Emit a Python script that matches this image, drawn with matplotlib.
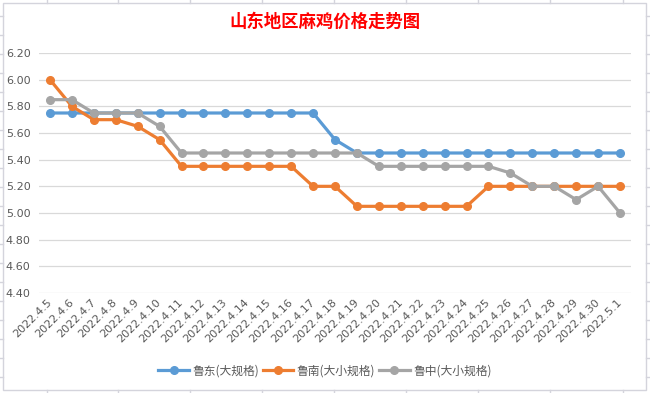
import matplotlib
matplotlib.use("Agg")
import matplotlib.pyplot as plt
from matplotlib.lines import Line2D

plt.rcParams['font.family'] = ['Noto Sans CJK SC', 'DejaVu Sans']

# dates on the category axis
dates = ['2022.4.5', '2022.4.6', '2022.4.7', '2022.4.8', '2022.4.9', '2022.4.10',
         '2022.4.11', '2022.4.12', '2022.4.13', '2022.4.14', '2022.4.15', '2022.4.16',
         '2022.4.17', '2022.4.18', '2022.4.19', '2022.4.20', '2022.4.21', '2022.4.22',
         '2022.4.23', '2022.4.24', '2022.4.25', '2022.4.26', '2022.4.27', '2022.4.28',
         '2022.4.29', '2022.4.30', '2022.5.1']

# price series
ludong = [5.75, 5.75, 5.75, 5.75, 5.75, 5.75, 5.75, 5.75, 5.75, 5.75, 5.75, 5.75,
          5.75, 5.55, 5.45, 5.45, 5.45, 5.45, 5.45, 5.45, 5.45, 5.45, 5.45, 5.45,
          5.45, 5.45, 5.45]
lunan = [6.00, 5.80, 5.70, 5.70, 5.65, 5.55, 5.35, 5.35, 5.35, 5.35, 5.35, 5.35,
         5.20, 5.20, 5.05, 5.05, 5.05, 5.05, 5.05, 5.05, 5.20, 5.20, 5.20, 5.20,
         5.20, 5.20, 5.20]
luzhong = [5.85, 5.85, 5.75, 5.75, 5.75, 5.65, 5.45, 5.45, 5.45, 5.45, 5.45, 5.45,
           5.45, 5.45, 5.45, 5.35, 5.35, 5.35, 5.35, 5.35, 5.35, 5.30, 5.20, 5.20,
           5.10, 5.20, 5.00]

series_names = ['鲁东(大规格)', '鲁南(大小规格)', '鲁中(大小规格)']
colors = ['#5B9BD5', '#ED7D31', '#A5A5A5']
yticks = [4.40, 4.60, 4.80, 5.00, 5.20, 5.40, 5.60, 5.80, 6.00, 6.20]

W, H = 650, 393
fig = plt.figure(figsize=(6.5, 3.93), dpi=100)
ax = fig.add_axes([39 / W, 1 - 293 / H, (631 - 39) / W, (293 - 53) / H])

x = list(range(len(dates)))
for vals, name, c in zip([ludong, lunan, luzhong], series_names, colors):
    ax.plot(x, vals, color=c, lw=2.3, marker='o', markersize=5.5, label=name,
            solid_capstyle='round', solid_joinstyle='round')

ax.set_xlim(-0.5, len(dates) - 0.5)
ax.set_ylim(4.40, 6.20)
ax.set_yticks(yticks)
ax.set_yticklabels([f'{v:.2f}' for v in yticks], fontsize=8, color='#595959',
                   family=['DejaVu Sans'])
ax.grid(axis='y', color='#D9D9D9', lw=0.9)
ax.set_axisbelow(True)
for s in ax.spines.values():
    s.set_visible(False)
ax.tick_params(axis='y', length=0, pad=6)
ax.tick_params(axis='x', length=0, pad=4)
ax.set_xticks(x)
ax.set_xticklabels(dates, rotation=45, ha='right', va='center', rotation_mode='anchor',
                   fontsize=8, color='#595959', family=['DejaVu Sans'])
for lbl in ax.get_xticklabels():
    lbl.set_y(-0.01)

fig.text(0.5, 1 - 22 / H, '山东地区麻鸡价格走势图', ha='center', va='center',
         fontsize=12.5, fontweight='bold', color='#FF0000')

handles = [Line2D([0], [0], color=c, lw=2.3, marker='o', markersize=5.5) for c in colors]
fig.legend(handles, series_names, loc='center', bbox_to_anchor=(0.5, 1 - 371 / H),
           ncol=3, frameon=False, fontsize=8.5, handlelength=2.6, columnspacing=0.3,
           handletextpad=0.3, labelcolor='#595959')

# chart frame and spreadsheet cell lines around it
frame_c = '#D4D4DC'
fig.add_artist(plt.Rectangle((3 / W, 1 - 390 / H), (646 - 3) / W, (390 - 3) / H,
                             transform=fig.transFigure, fill=False, ec=frame_c, lw=1))
for px in [47, 118, 190, 262, 334, 406, 478, 550, 623]:
    fig.add_artist(Line2D([px / W, px / W], [1 - 3 / H, 1], color=frame_c, lw=1,
                          transform=fig.transFigure))
    fig.add_artist(Line2D([px / W, px / W], [0, 1 - 390 / H], color=frame_c, lw=1,
                          transform=fig.transFigure))
for py in range(16, 390, 19):
    fig.add_artist(Line2D([0, 3 / W], [1 - py / H, 1 - py / H], color=frame_c, lw=1,
                          transform=fig.transFigure))
    fig.add_artist(Line2D([646 / W, 1], [1 - py / H, 1 - py / H], color=frame_c, lw=1,
                          transform=fig.transFigure))

fig.savefig('out.png', dpi=100)
